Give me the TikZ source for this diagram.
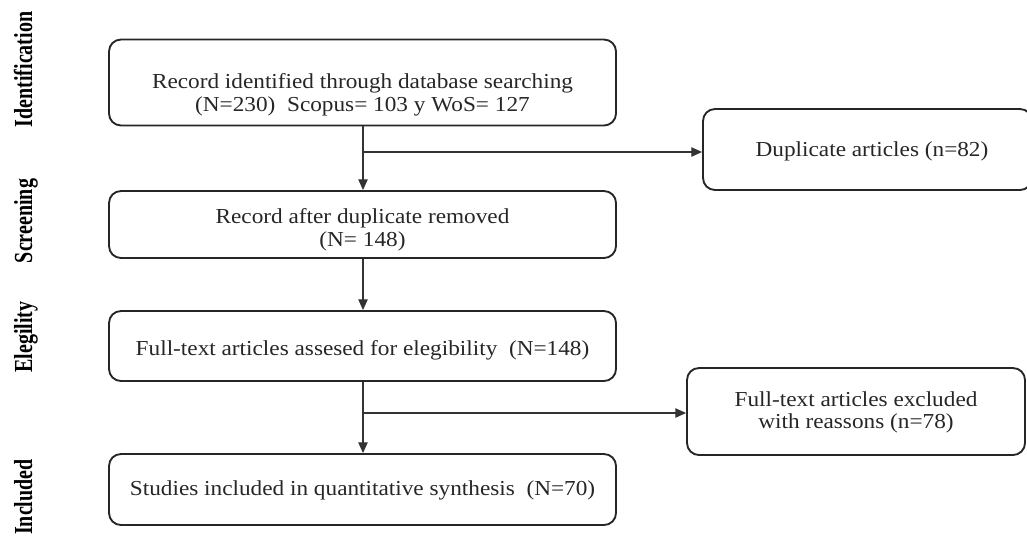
\documentclass[tikz,border=0pt]{standalone}
\usepackage{fontspec}
\setmainfont{Liberation Serif}
\newfontfamily\boxfont[FakeStretch=1.09]{Liberation Serif}
\usetikzlibrary{arrows.meta}
\tikzset{
  flowbox/.style={draw=black!85, line width=1.4pt, rounded corners=9pt, inner sep=0pt},
  boxtext/.style={align=center, inner sep=0pt,
    font=\boxfont\fontsize{16}{17}\selectfont, text=black!85},
  conn/.style={draw=black!80, line width=0.8pt},
  arr/.style={conn, -{Triangle[length=8pt,width=7pt]}},
  phase/.style={rotate=90, anchor=base, font=\fontsize{15}{15}\selectfont\bfseries, text=black}
}
\newcommand{\tallbox}[1]{\scalebox{1}[1.3]{#1}}
\begin{document}
\begin{tikzpicture}[x=0.75pt, y=-0.75pt]
\useasboundingbox (0,0) rectangle (1027,536);
% main boxes
\node[flowbox, minimum width={507*0.75pt}, minimum height={86*0.75pt}] (b1) at (362.5,82.5) {};
\node[boxtext] (t1) at (362.5,95)
  {Record identified through database searching\\(N=230)\ \ Scopus= 103 y WoS= 127};
\node[flowbox, minimum width={507*0.75pt}, minimum height={67*0.75pt}] (b2) at (362.5,224.5) {};
\node[boxtext] (t2) at (362.5,230)
  {Record after duplicate removed\\(N= 148)};
\node[flowbox, minimum width={507*0.75pt}, minimum height={70*0.75pt}] (b3) at (362.5,346) {};
\node[boxtext] (t3) at (362.5,350)
  {Full-text articles assesed for elegibility\ \ (N=148)};
\node[flowbox, minimum width={507*0.75pt}, minimum height={71*0.75pt}] (b4) at (362.5,489.5) {};
\node[boxtext] (t4) at (362.5,490)
  {Studies included in quantitative synthesis\ \ (N=70)};
% side boxes
\node[flowbox, minimum width={329*0.75pt}, minimum height={81*0.75pt}] (dup) at (867.5,149.5) {};
\node[boxtext] (t5) at (872,151) {Duplicate articles (n=82)};
\node[flowbox, minimum width={338*0.75pt}, minimum height={87*0.75pt}] (exc) at (856,411.5) {};
\node[boxtext] (t6) at (856,412.5)
  {Full-text articles excluded\\with reassons (n=78)};
% phase labels
\node[phase] (lid) at (32,69.5) {\tallbox{Identification}};
\node[phase] (lsc) at (32,221) {\tallbox{Screening}};
\node[phase] (lel) at (32,337) {\tallbox{Elegility}};
\node[phase] (lin) at (32,497) {\tallbox{Included}};
% connectors
\coordinate (s1) at (363,152);
\coordinate (s2) at (363,413);
\draw[arr] (b1.south -| s1) -- (b2.north -| s1);
\draw[arr] (s1) -- (dup.west |- s1);
\draw[arr] (b2.south -| s1) -- (b3.north -| s1);
\draw[arr] (b3.south -| s2) -- (b4.north -| s2);
\draw[arr] (s2) -- (exc.west |- s2);
\end{tikzpicture}
\end{document}
